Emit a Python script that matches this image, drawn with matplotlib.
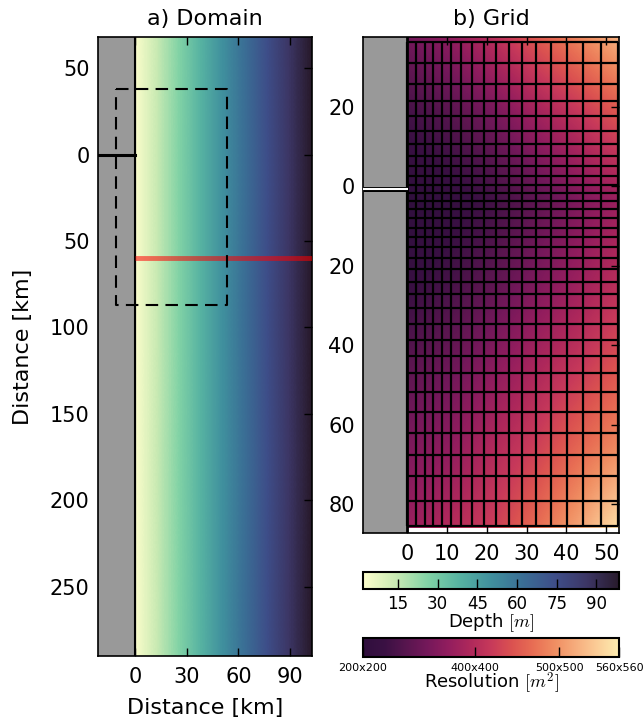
import numpy as np
import matplotlib
matplotlib.use('Agg')
import matplotlib.pyplot as plt
from matplotlib.colors import LinearSegmentedColormap, Normalize
from matplotlib.ticker import FuncFormatter
from matplotlib.cm import ScalarMappable
from matplotlib.patches import Rectangle

plt.rcParams['font.family'] = ['DejaVu Sans']
plt.rcParams['mathtext.fontset'] = 'cm'

# --- data ---
# panel a: depth across the shelf (linear in x)
depth_x_km = [0.0, 102.7]
depth_m = [1.8, 98.5]
section_y_km = 60.0          # red transect
coast_mark_y_km = 0.0        # black mark on land
zoom_box_x = [-11.1, 53.4]   # dashed box = panel b
zoom_box_y = [-37.8, 87.0]

# panel b: grid line positions [km]
grid_col_km = [0.0, 2.27, 4.36, 6.45, 8.72, 11.08, 13.6, 16.37, 19.22, 22.42,
               25.52, 28.72, 32.32, 36.1, 40.05, 44.23, 48.6, 53.0]
grid_row_km = [-36.21, -30.94, -25.67, -21.48, -17.54, -13.95, -10.61, -7.68,
               -4.99, -2.48, -0.40, 1.68, 3.61, 5.62, 7.88, 10.46, 12.82, 15.33,
               17.99, 20.93, 24.02, 27.21, 30.72, 34.73, 38.75, 42.76, 47.03,
               51.72, 56.74, 62.08, 67.53, 72.95, 79.07, 85.34]

# panel b: cell resolution [m] (side length) at evenly spaced nodes
res_x_km = [0.0, 10.64, 21.28, 31.92, 42.56, 53.2]
res_y_km = [-37.5, -16.92, 3.67, 24.25, 44.83, 65.42, 86.0]
res_m = [[329, 360, 404, 452, 488, 522],
         [262, 290, 325, 372, 410, 447],
         [205, 228, 262, 300, 339, 372],
         [240, 268, 300, 338, 372, 405],
         [296, 318, 350, 385, 415, 448],
         [338, 358, 393, 425, 462, 492],
         [369, 398, 425, 467, 508, 552]]
res_ticks_m = [200, 400, 500, 560]
depth_ticks = [15, 30, 45, 60, 75, 90]

# colormaps (cmocean deep / matter_r look-alikes)
deep = LinearSegmentedColormap.from_list('deep', [
    '#fdfecc', '#c9eab3', '#82d3a6', '#57b3a2', '#40909e',
    '#3a6e95', '#3e4e89', '#3c3665', '#281a2c'])
matter_r = LinearSegmentedColormap.from_list('matter_r', [
    '#2f0f3d', '#3a1043', '#57154e', '#74185a', '#921d5e', '#ae285b',
    '#c7395a', '#db5250', '#e86e54', '#f08e62', '#f6ad7d', '#fbcd97', '#fdedb0'])

land = '#999999'
W, H = 644, 723
fig = plt.figure(figsize=(W / 100, H / 100), dpi=100)


def px_axes(l, t, r, b):
    return fig.add_axes([l / W, 1 - b / H, (r - l) / W, (b - t) / H])


absfmt = FuncFormatter(lambda v, p: f'{abs(v):g}')

# ---------------- a) Domain ----------------
ax1 = px_axes(98, 37, 312, 656)
xa0, xa1 = -21.5, 102.7
ya0, ya1 = 290, -68
dn = Normalize(depth_m[0], depth_m[-1])
hx = (depth_x_km[1] - depth_x_km[0]) / 2
ax1.imshow(np.array([depth_m]), cmap=deep, norm=dn, interpolation='bilinear',
           interpolation_stage='data', aspect='auto', origin='upper',
           extent=(depth_x_km[0] - hx, depth_x_km[1] + hx, ya0, ya1), zorder=1)
ax1.axvspan(xa0, 0, color=land, zorder=2)
ax1.axvline(0, color='k', lw=1.5, zorder=3)
ax1.plot([xa0, 0], [coast_mark_y_km, coast_mark_y_km], color='k', lw=2.2, zorder=3)
ax1.plot([0, xa1], [section_y_km, section_y_km], color='red', lw=3.5,
         alpha=0.55, solid_capstyle='butt', zorder=4)
bx = [zoom_box_x[0], zoom_box_x[1], zoom_box_x[1], zoom_box_x[0], zoom_box_x[0]]
by = [zoom_box_y[0], zoom_box_y[0], zoom_box_y[1], zoom_box_y[1], zoom_box_y[0]]
ax1.plot(bx, by, color='k', lw=1.5, linestyle=(0, (6, 3.5)), zorder=5)
ax1.set_xlim(xa0, xa1)
ax1.set_ylim(ya0, ya1)
ax1.set_xticks([0, 30, 60, 90])
ax1.set_yticks([-50, 0, 50, 100, 150, 200, 250])
ax1.yaxis.set_major_formatter(absfmt)
ax1.set_title('a) Domain', fontsize=16, pad=9)
ax1.set_xlabel('Distance [km]', fontsize=16, labelpad=8)
ax1.set_ylabel('Distance [km]', fontsize=16, labelpad=12)

# ---------------- b) Grid ----------------
ax2 = px_axes(363, 37, 619, 533)
xb0, xb1 = -11.1, 53.2
yb0, yb1 = 87.2, -37.5
area = np.array(res_m, dtype=float) ** 2
rn = Normalize(res_ticks_m[0] ** 2, res_ticks_m[-1] ** 2)
hx2 = (res_x_km[1] - res_x_km[0]) / 2
hy2 = (res_y_km[1] - res_y_km[0]) / 2
im = ax2.imshow(area, cmap=matter_r, norm=rn, interpolation='bilinear',
                interpolation_stage='data', aspect='auto', origin='upper',
                extent=(res_x_km[0] - hx2, res_x_km[-1] + hx2,
                        res_y_km[-1] + hy2, res_y_km[0] - hy2), zorder=1)
im.set_clip_path(Rectangle((res_x_km[0], res_y_km[0]), res_x_km[-1] - res_x_km[0],
                           res_y_km[-1] - res_y_km[0], transform=ax2.transData))
ax2.axvspan(xb0, 0, color=land, zorder=2)
ax2.vlines(grid_col_km, grid_row_km[0], grid_row_km[-1], color='k', lw=1.6, zorder=3)
ax2.hlines(grid_row_km, 0, grid_col_km[-1], color='k', lw=1.6, zorder=3)
ax2.axvline(0, color='k', lw=2, zorder=4)
ax2.plot([xb0, 0.3], [0.6, 0.6], color='k', lw=3.6, zorder=5, solid_capstyle='butt')
ax2.plot([xb0, 0.3], [0.6, 0.6], color='white', lw=1.5, zorder=6, solid_capstyle='butt')
ax2.set_xlim(xb0, xb1)
ax2.set_ylim(yb0, yb1)
ax2.set_xticks([0, 10, 20, 30, 40, 50])
ax2.set_yticks([-20, 0, 20, 40, 60, 80])
ax2.yaxis.set_major_formatter(absfmt)
ax2.set_title('b) Grid', fontsize=16, pad=9)

for ax in (ax1, ax2):
    ax.tick_params(direction='in', top=True, right=True, length=6, width=1,
                   labelsize=15)
    ax.tick_params(axis='x', pad=8)
    ax.tick_params(axis='y', pad=6)
    for s in ax.spines.values():
        s.set_linewidth(1.2)

# ---------------- colorbars ----------------
cax1 = px_axes(363, 572, 619, 589)
cb1 = fig.colorbar(ScalarMappable(norm=dn, cmap=deep), cax=cax1,
                   orientation='horizontal', ticks=depth_ticks)
cb1.set_label(r'Depth $[m]$', fontsize=13, labelpad=-1)

cax2 = px_axes(363, 638, 619, 657)
cb2 = fig.colorbar(ScalarMappable(norm=rn, cmap=matter_r), cax=cax2,
                   orientation='horizontal', ticks=[r ** 2 for r in res_ticks_m])
cb2.ax.set_xticklabels([f'{r}x{r}' for r in res_ticks_m])
cb2.set_label(r'Resolution $[m^2]$', fontsize=13, labelpad=-1)

for cb, ls in ((cb1, 12), (cb2, 8)):
    cb.ax.tick_params(direction='in', length=7, width=1, labelsize=ls, pad=4)
    cb.outline.set_linewidth(1.5)

fig.savefig('out.png', dpi=100)
